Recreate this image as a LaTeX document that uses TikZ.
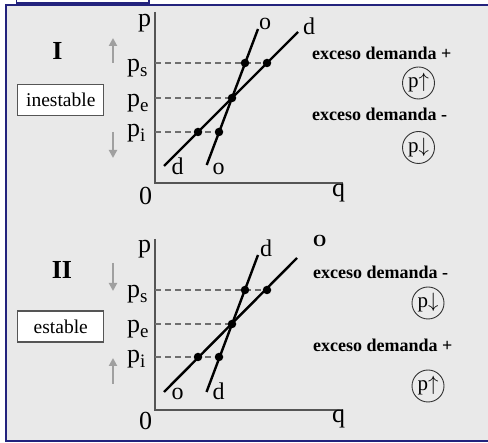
\documentclass[tikz,border=0pt]{standalone}
\usepackage{fontspec}
\setmainfont{Liberation Serif}
\usetikzlibrary{arrows.meta}
\definecolor{navy}{RGB}{35,35,125}
\definecolor{panel}{RGB}{233,233,233}
\definecolor{axisgray}{RGB}{85,85,85}
\definecolor{dashgray}{RGB}{110,110,110}
\definecolor{arrgray}{RGB}{160,160,160}
\newcommand\psub[1]{p\raisebox{-5pt}{\fontsize{19}{19}\selectfont #1}}
\begin{document}
\begin{tikzpicture}[x=1pt,y=-1pt,
  lab/.style={font=\fontsize{26}{26}\selectfont, inner sep=0pt},
  curvelab/.style={font=\fontsize{24}{24}\selectfont, inner sep=0pt, anchor=base},
  roman/.style={font=\bfseries\fontsize{26}{26}\selectfont, inner sep=0pt, anchor=base},
  exc/.style={font=\bfseries\fontsize{18}{18}\selectfont, inner sep=0pt, anchor=base west},
  axisline/.style={draw=axisgray, line width=1.5pt},
  dashline/.style={draw=dashgray, line width=1.3pt, dash pattern=on 6pt off 4pt},
  curve/.style={draw=black, line width=2.4pt},
  dot/.style={circle, fill=black, inner sep=0pt, minimum size=8.5pt},
  garrow/.style={draw=arrgray, line width=2.2pt, -{Triangle[length=8pt,width=8pt]}},
  statebox/.style={draw=axisgray, line width=1.3pt, fill=white, minimum width=86pt, minimum height=31pt, inner sep=0pt, font=\fontsize{19.5}{19.5}\selectfont},
  pcircle/.style={circle, draw=black!80, line width=0.9pt, fill=panel!90!white, minimum size=32pt, inner sep=0pt, font=\fontsize{21}{21}\selectfont}
]
\useasboundingbox (0,0) rectangle (488,443);
\fill[white] (0,0) rectangle (488,443);
\draw[navy, line width=1.2pt, fill=white] (16.5,-10) rectangle (149,3);
\draw[navy, line width=2pt, fill=panel] (6,5) rectangle (495,441.5);

% ---------- Panel I ----------
\coordinate (Ptop1) at (155,12);
\coordinate (O1) at (155,183);
\coordinate (Qend1) at (343,183);
\draw[axisline] (Ptop1) -- (O1) -- (Qend1);
\coordinate (ys1) at (155,63);
\coordinate (ye1) at (155,98);
\coordinate (yi1) at (155,132);
\coordinate (sa1) at (245,63);
\coordinate (sb1) at (267,63);
\coordinate (e1) at (232,98);
\coordinate (ia1) at (198,132);
\coordinate (ib1) at (219,132);
\draw[dashline] (ys1) -- (sb1);
\draw[dashline] (ye1) -- (e1);
\draw[dashline] (yi1) -- (ib1);
\coordinate (st1a) at (206.7,165);
\coordinate (st1b) at (258,29);
\coordinate (sh1a) at (164,166);
\coordinate (sh1b) at (298,32);
\draw[curve] (st1a) -- (st1b);
\draw[curve] (sh1a) -- (sh1b);
\foreach \n in {sa1,sb1,e1,ia1,ib1} \node[dot] at (\n) {};
\node[lab, anchor=base west] (plab1) at (138,27) {p};
\node[lab, anchor=base west] (ps1) at (127,72) {\psub{s}};
\node[lab, anchor=base west] (pe1) at (127,107) {\psub{e}};
\node[lab, anchor=base west] (pi1) at (127,137) {\psub{i}};
\node[lab, anchor=base west] (zero1) at (139,205) {0};
\node[lab, anchor=base west] (q1) at (332,197) {q};
\node[curvelab] (dlo1) at (177.5,175) {d};
\node[curvelab] (olo1) at (218.5,175) {o};
\node[curvelab] (ohi1) at (265,30) {o};
\node[curvelab] (dhi1) at (309,35) {d};
\node[roman] (rom1) at (57.5,60) {I};
\node[statebox] (st1) at (60.75,100) {inestable};
\coordinate (au1t) at (113,63);
\coordinate (au1h) at (113,38);
\coordinate (ad1t) at (113,132);
\coordinate (ad1h) at (113,158);
\draw[garrow] (au1t) -- (au1h);
\draw[garrow] (ad1t) -- (ad1h);
\node[exc] (ex1a) at (312,60) {exceso demanda +};
\node[pcircle] (c1a) at (418.5,83) {p$\uparrow$};
\node[exc] (ex1b) at (312,121) {exceso demanda -};
\node[pcircle] (c1b) at (418.5,147.5) {p$\downarrow$};

% ---------- Panel II ----------
\coordinate (Ptop2) at (155,239);
\coordinate (O2) at (155,410);
\coordinate (Qend2) at (343,410);
\draw[axisline] (Ptop2) -- (O2) -- (Qend2);
\coordinate (ys2) at (155,290);
\coordinate (ye2) at (155,324);
\coordinate (yi2) at (155,357);
\coordinate (sa2) at (245,290);
\coordinate (sb2) at (267,290);
\coordinate (e2) at (232,324);
\coordinate (ia2) at (198,357);
\coordinate (ib2) at (219,357);
\draw[dashline] (ys2) -- (sb2);
\draw[dashline] (ye2) -- (e2);
\draw[dashline] (yi2) -- (ib2);
\coordinate (st2a) at (206.5,392);
\coordinate (st2b) at (258,255);
\coordinate (sh2a) at (164,392);
\coordinate (sh2b) at (297,258);
\draw[curve] (st2a) -- (st2b);
\draw[curve] (sh2a) -- (sh2b);
\foreach \n in {sa2,sb2,e2,ia2,ib2} \node[dot] at (\n) {};
\node[lab, anchor=base west] (plab2) at (138,253) {p};
\node[lab, anchor=base west] (ps2) at (127,298) {\psub{s}};
\node[lab, anchor=base west] (pe2) at (127,333) {\psub{e}};
\node[lab, anchor=base west] (pi2) at (127,363) {\psub{i}};
\node[lab, anchor=base west] (zero2) at (139,430) {0};
\node[lab, anchor=base west] (q2) at (332,423) {q};
\node[curvelab] (olo2) at (177.5,400) {o};
\node[curvelab] (dlo2) at (218.5,400) {d};
\node[curvelab] (dhi2) at (266,257) {d};
\node[font=\bfseries\fontsize{17}{17}\selectfont, inner sep=0pt, anchor=base west] (bigO) at (313,247) {O};
\node[roman] (rom2) at (62,279) {II};
\node[statebox] (st2) at (60.75,326.5) {estable};
\coordinate (ad2t) at (113,263);
\coordinate (ad2h) at (113,291);
\coordinate (au2t) at (113,384);
\coordinate (au2h) at (113,358);
\draw[garrow] (ad2t) -- (ad2h);
\draw[garrow] (au2t) -- (au2h);
\node[exc] (ex2a) at (313,279) {exceso demanda -};
\node[pcircle] (c2a) at (428,303) {p$\downarrow$};
\node[exc] (ex2b) at (313,352) {exceso demanda +};
\node[pcircle] (c2b) at (428,386) {p$\uparrow$};
\end{tikzpicture}
\end{document}
